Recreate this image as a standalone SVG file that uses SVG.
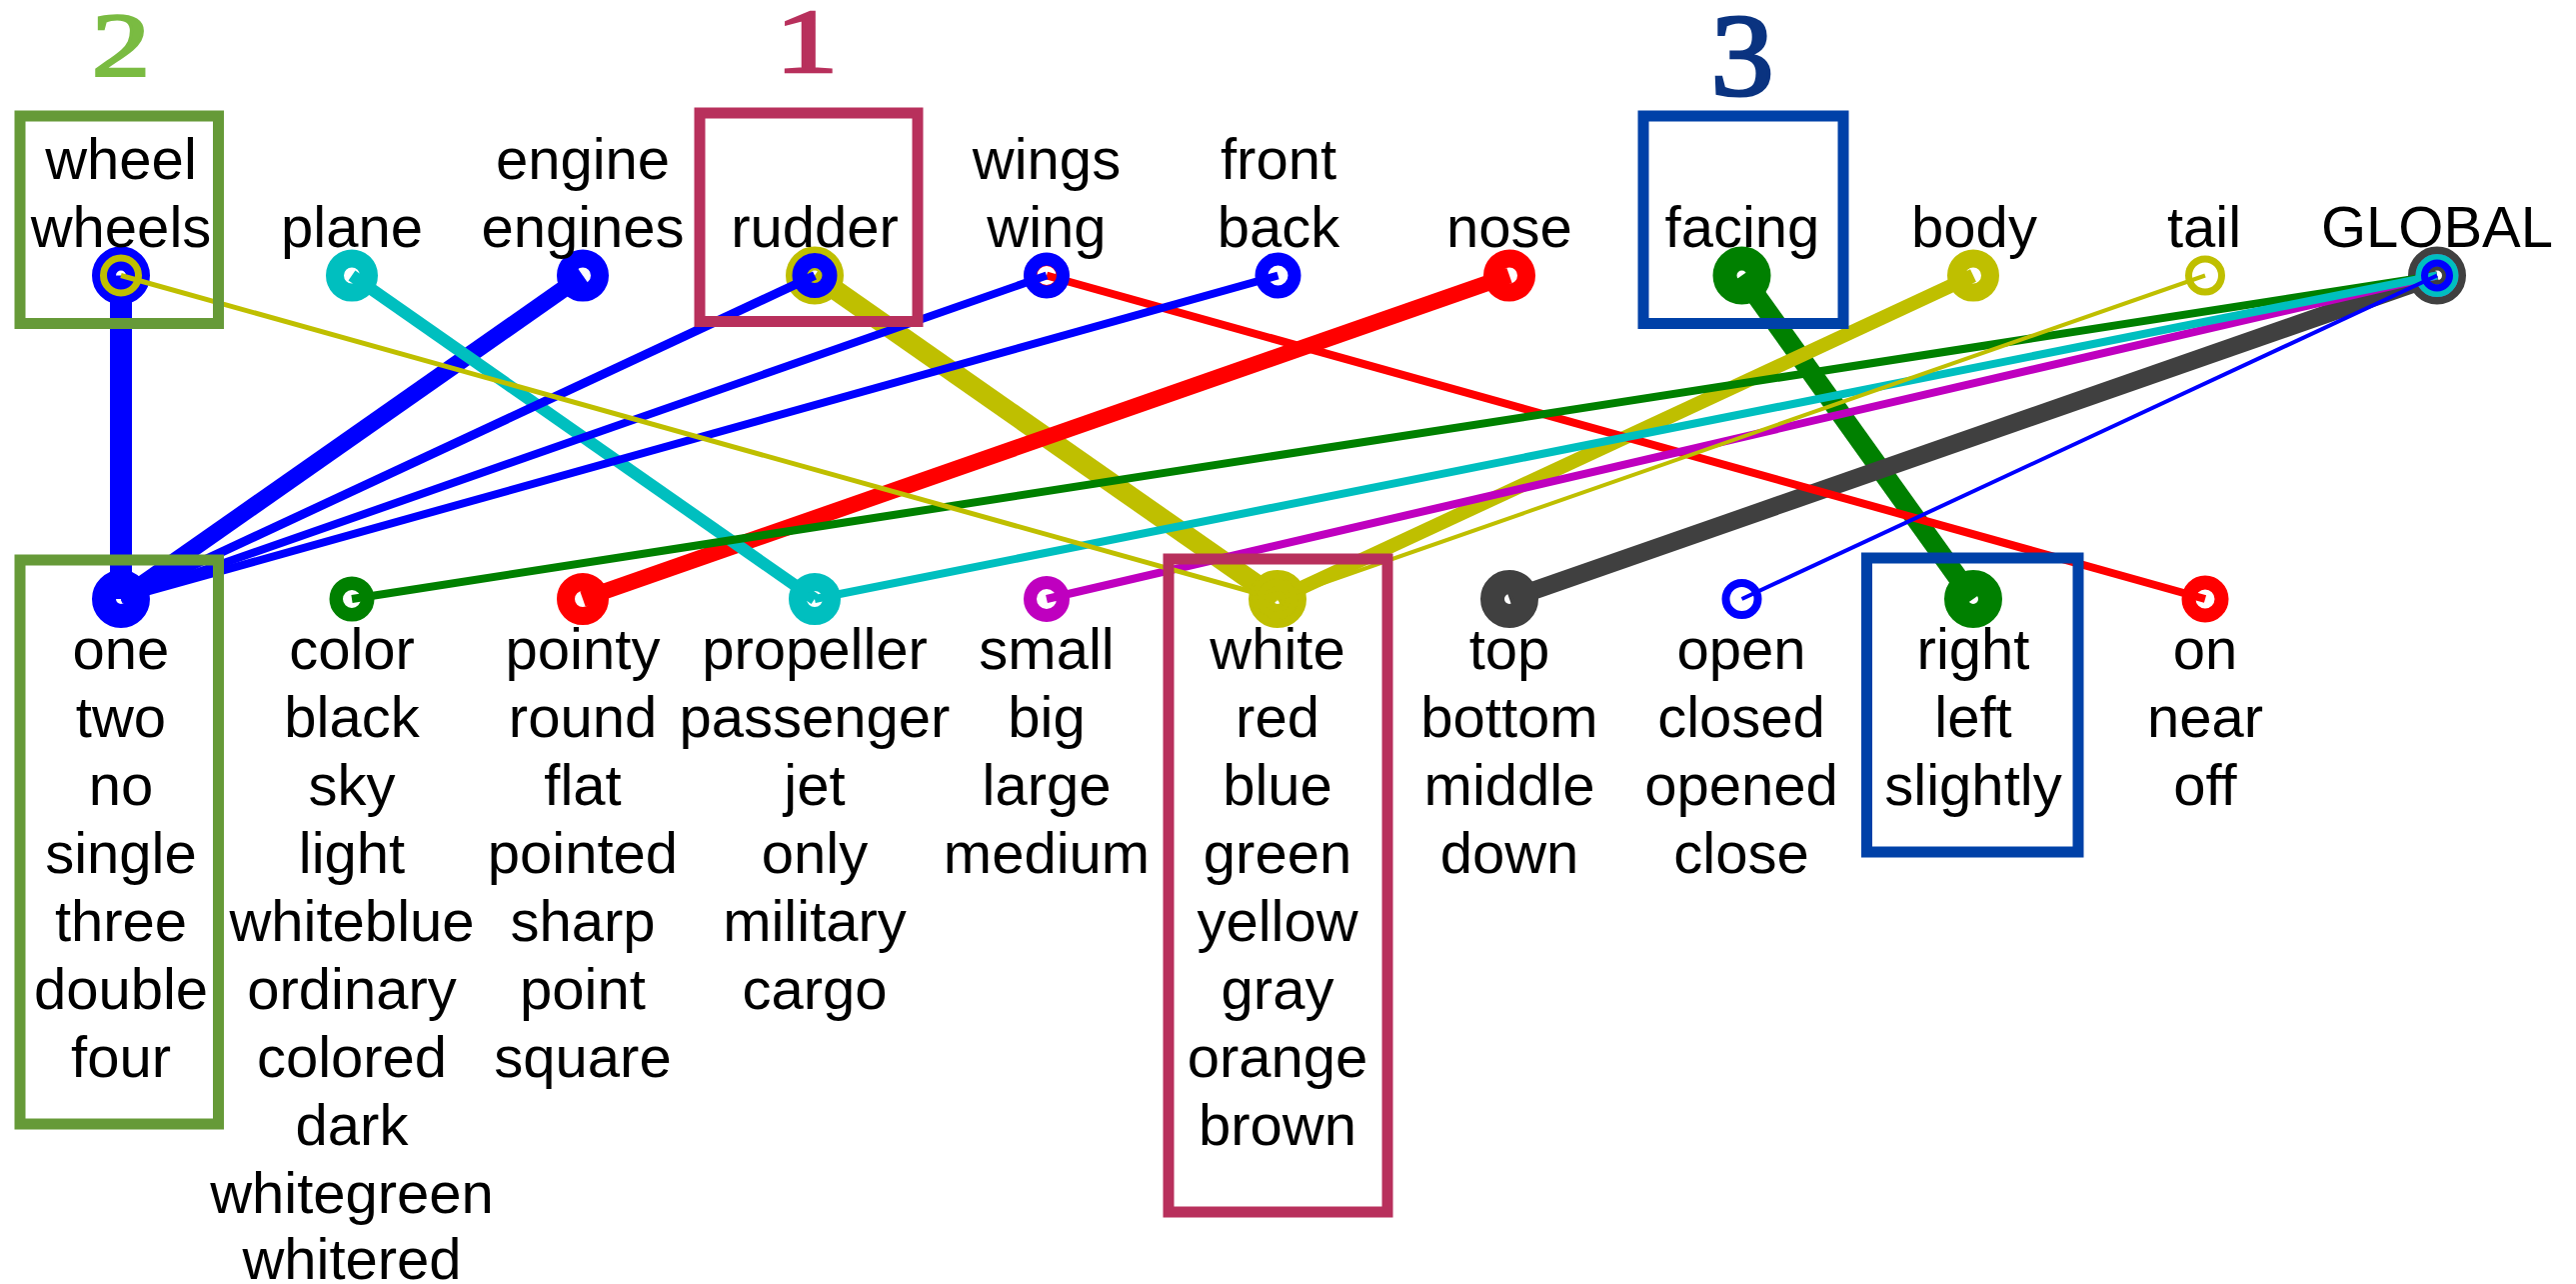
<svg xmlns="http://www.w3.org/2000/svg" width="2577" height="1284" viewBox="0 0 2577 1284">
<style>
.t{font-family:"Liberation Sans",Arial,Helvetica,sans-serif;font-size:58px;text-anchor:middle;fill:#000}
.d{font-family:"Liberation Serif","Times New Roman",serif;font-size:90px;text-anchor:middle;stroke-width:2.5}
.e{fill:none;stroke-linecap:butt}
.ring{fill:none}
.box{fill:none;stroke-width:11}
.B{stroke:#0000ff}.Y{stroke:#bfbf00}.C{stroke:#00bfbf}.R{stroke:#ff0000}.G{stroke:#008000}.M{stroke:#bf00bf}.K{stroke:#404040}
.thick{stroke-width:24}
</style>
<rect width="2577" height="1284" fill="#fff"/>
<g id="connectors">
  <g class="B"><line class="e" x1="121" y1="275.5" x2="121" y2="599" stroke-width="22"/><circle class="ring thick" cx="121" cy="275.5" r="17"/><circle class="ring thick" cx="121" cy="599" r="17"/></g>
  <g class="Y"><line class="e" x1="815" y1="275.5" x2="1278" y2="599" stroke-width="20"/><circle class="ring thick" cx="815" cy="275.5" r="17"/><circle class="ring thick" cx="1278" cy="599" r="17"/></g>
  <g class="G"><line class="e" x1="1742.5" y1="275.5" x2="1974" y2="599" stroke-width="20"/><circle class="ring thick" cx="1742.5" cy="275.5" r="17"/><circle class="ring thick" cx="1974" cy="599" r="17"/></g>
  <g class="K"><line class="e" x1="2438" y1="275.5" x2="1510" y2="599" stroke-width="18"/><circle class="ring thick" cx="2438" cy="275.5" r="17"/><circle class="ring thick" cx="1510" cy="599" r="17"/></g>
  <g class="B"><line class="e" x1="583" y1="275.5" x2="121" y2="599" stroke-width="17"/><circle class="ring" cx="583" cy="275.5" r="17" stroke-width="18"/><circle class="ring" cx="121" cy="599" r="17" stroke-width="18"/></g>
  <g class="R"><line class="e" x1="1510" y1="275.5" x2="583" y2="599" stroke-width="16"/><circle class="ring" cx="1510" cy="275.5" r="17" stroke-width="18"/><circle class="ring" cx="583" cy="599" r="17" stroke-width="18"/></g>
  <g class="Y"><line class="e" x1="1974" y1="275.5" x2="1278" y2="599" stroke-width="14"/><circle class="ring" cx="1974" cy="275.5" r="17" stroke-width="18"/><circle class="ring" cx="1278" cy="599" r="17" stroke-width="18"/></g>
  <g class="C"><line class="e" x1="352" y1="275.5" x2="815" y2="599" stroke-width="12"/><circle class="ring" cx="352" cy="275.5" r="17" stroke-width="18"/><circle class="ring" cx="815" cy="599" r="17" stroke-width="18"/></g>
  <g class="R"><line class="e" x1="1047" y1="275.5" x2="2206" y2="599" stroke-width="8"/><circle class="ring" cx="1047" cy="275.5" r="16" stroke-width="13"/><circle class="ring" cx="2206" cy="599" r="16.5" stroke-width="14"/></g>
  <g class="B"><line class="e" x1="815" y1="275.5" x2="121" y2="599" stroke-width="9"/><circle class="ring" cx="815" cy="275.5" r="15" stroke-width="15"/><circle class="ring" cx="121" cy="599" r="16" stroke-width="13"/></g>
  <g class="B"><line class="e" x1="1047" y1="275.5" x2="121" y2="599" stroke-width="8"/><circle class="ring" cx="1047" cy="275.5" r="16.5" stroke-width="13"/><circle class="ring" cx="121" cy="599" r="16" stroke-width="13"/></g>
  <g class="B"><line class="e" x1="1278.5" y1="275.5" x2="121" y2="599" stroke-width="8"/><circle class="ring" cx="1278.5" cy="275.5" r="16.5" stroke-width="13"/><circle class="ring" cx="121" cy="599" r="16" stroke-width="13"/></g>
  <g class="G"><line class="e" x1="2438" y1="275.5" x2="352" y2="599" stroke-width="8"/><circle class="ring" cx="2438" cy="275.5" r="15.5" stroke-width="12"/><circle class="ring" cx="352" cy="599" r="15.75" stroke-width="13.5"/></g>
  <g class="M"><line class="e" x1="2438" y1="275.5" x2="1047" y2="599" stroke-width="8"/><circle class="ring" cx="2438" cy="275.5" r="15.5" stroke-width="12"/><circle class="ring" cx="1047" cy="599" r="16.5" stroke-width="13"/></g>
  <g class="C"><line class="e" x1="2438" y1="275.5" x2="815" y2="599" stroke-width="8"/><circle class="ring" cx="2438" cy="275.5" r="15.5" stroke-width="12"/><circle class="ring" cx="815" cy="599" r="16" stroke-width="13"/></g>
  <g class="Y"><line class="e" x1="121" y1="275.5" x2="1278" y2="599" stroke-width="5"/><circle class="ring" cx="121" cy="275.5" r="17.5" stroke-width="7"/><circle class="ring" cx="1278" cy="599" r="17.5" stroke-width="7"/></g>
  <g class="Y"><line class="e" x1="2206" y1="275.5" x2="1278" y2="599" stroke-width="4"/><circle class="ring" cx="2206" cy="275.5" r="16.5" stroke-width="7"/><circle class="ring" cx="1278" cy="599" r="16.5" stroke-width="7"/></g>
  <g class="B"><line class="e" x1="2438" y1="275.5" x2="1742.5" y2="599" stroke-width="4"/><circle class="ring" cx="2438" cy="275.5" r="12.5" stroke-width="7"/><circle class="ring" cx="1742.5" cy="599" r="16" stroke-width="8"/></g>
</g>
<g id="highlights">
  <rect class="box" x="20" y="116" width="198.5" height="207.5" stroke="#669a38"/>
  <rect class="box" x="20" y="560" width="198.5" height="564" stroke="#669a38"/>
  <rect class="box" x="700" y="113" width="218" height="208.5" stroke="#b8305c"/>
  <rect class="box" x="1169" y="559" width="219" height="653" stroke="#b8305c"/>
  <rect class="box" x="1644" y="116" width="200" height="207.5" stroke="#0041a8"/>
  <rect class="box" x="1867.5" y="558" width="211.5" height="294" stroke="#0041a8"/>
  <text class="d" transform="translate(121,76) scale(1.3,1)" fill="#7abb42" stroke="#7abb42">2</text>
  <text class="d" transform="translate(807,72) scale(1.4,1)" fill="#b8305c" stroke="#b8305c">1</text>
  <text class="d" transform="translate(1743,95) scale(1.4,1.3)" fill="#0a3380" stroke="#0a3380">3</text>
</g>
<g id="n-wheel"><text class="t" x="121" y="179">wheel</text><text class="t" x="121" y="247">wheels</text></g>
<g id="n-plane"><text class="t" x="352" y="247">plane</text></g>
<g id="n-engine"><text class="t" x="583" y="179">engine</text><text class="t" x="583" y="247">engines</text></g>
<g id="n-rudder"><text class="t" x="815" y="247">rudder</text></g>
<g id="n-wing"><text class="t" x="1047" y="179">wings</text><text class="t" x="1047" y="247">wing</text></g>
<g id="n-front"><text class="t" x="1279" y="179">front</text><text class="t" x="1279" y="247">back</text></g>
<g id="n-nose"><text class="t" x="1510" y="247">nose</text></g>
<g id="n-facing"><text class="t" x="1743" y="247">facing</text></g>
<g id="n-body"><text class="t" x="1975" y="247">body</text></g>
<g id="n-tail"><text class="t" x="2205" y="247">tail</text></g>
<g id="n-global"><text class="t" x="2438" y="247">GLOBAL</text></g>
<g id="n-one"><text class="t" x="121" y="669">one</text><text class="t" x="121" y="737">two</text><text class="t" x="121" y="805">no</text><text class="t" x="121" y="873">single</text><text class="t" x="121" y="941">three</text><text class="t" x="121" y="1009">double</text><text class="t" x="121" y="1077">four</text></g>
<g id="n-color"><text class="t" x="352" y="669">color</text><text class="t" x="352" y="737">black</text><text class="t" x="352" y="805">sky</text><text class="t" x="352" y="873">light</text><text class="t" x="352" y="941">whiteblue</text><text class="t" x="352" y="1009">ordinary</text><text class="t" x="352" y="1077">colored</text><text class="t" x="352" y="1145">dark</text><text class="t" x="352" y="1213">whitegreen</text><text class="t" x="352" y="1279">whitered</text></g>
<g id="n-pointy"><text class="t" x="583" y="669">pointy</text><text class="t" x="583" y="737">round</text><text class="t" x="583" y="805">flat</text><text class="t" x="583" y="873">pointed</text><text class="t" x="583" y="941">sharp</text><text class="t" x="583" y="1009">point</text><text class="t" x="583" y="1077">square</text></g>
<g id="n-propeller"><text class="t" x="815" y="669">propeller</text><text class="t" x="815" y="737">passenger</text><text class="t" x="815" y="805">jet</text><text class="t" x="815" y="873">only</text><text class="t" x="815" y="941">military</text><text class="t" x="815" y="1009">cargo</text></g>
<g id="n-small"><text class="t" x="1047" y="669">small</text><text class="t" x="1047" y="737">big</text><text class="t" x="1047" y="805">large</text><text class="t" x="1047" y="873">medium</text></g>
<g id="n-white"><text class="t" x="1278" y="669">white</text><text class="t" x="1278" y="737">red</text><text class="t" x="1278" y="805">blue</text><text class="t" x="1278" y="873">green</text><text class="t" x="1278" y="941">yellow</text><text class="t" x="1278" y="1009">gray</text><text class="t" x="1278" y="1077">orange</text><text class="t" x="1278" y="1145">brown</text></g>
<g id="n-top"><text class="t" x="1510" y="669">top</text><text class="t" x="1510" y="737">bottom</text><text class="t" x="1510" y="805">middle</text><text class="t" x="1510" y="873">down</text></g>
<g id="n-open"><text class="t" x="1742" y="669">open</text><text class="t" x="1742" y="737">closed</text><text class="t" x="1742" y="805">opened</text><text class="t" x="1742" y="873">close</text></g>
<g id="n-right"><text class="t" x="1974" y="669">right</text><text class="t" x="1974" y="737">left</text><text class="t" x="1974" y="805">slightly</text></g>
<g id="n-on"><text class="t" x="2206" y="669">on</text><text class="t" x="2206" y="737">near</text><text class="t" x="2206" y="805">off</text></g>
</svg>
